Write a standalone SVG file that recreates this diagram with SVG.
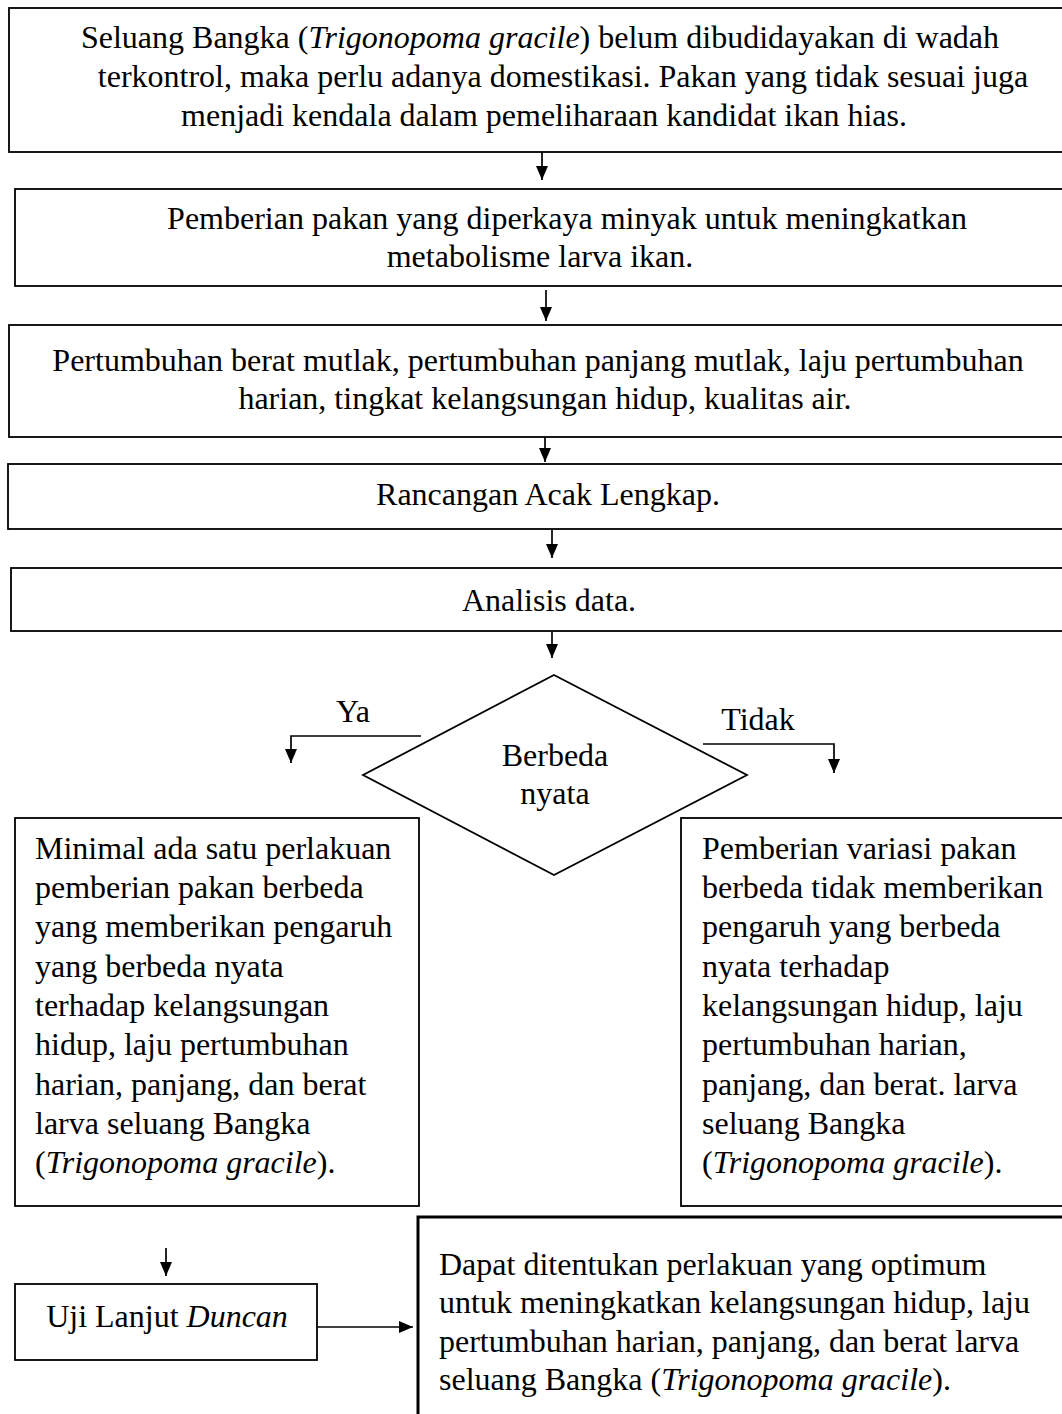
<svg xmlns="http://www.w3.org/2000/svg" width="1062" height="1414" viewBox="0 0 1062 1414">
<defs>
<style>
.box{fill:#fff;stroke:#000;stroke-width:1.8}
.thick{fill:#fff;stroke:#000;stroke-width:3}
.t{font-family:"Liberation Serif","Times New Roman",serif;font-size:32px;fill:#000}
.c{text-anchor:middle}
.conn{fill:none;stroke:#000;stroke-width:1.7}
</style>
<marker id="ah" viewBox="0 0 14 12" refX="14" refY="6" markerWidth="14" markerHeight="12" markerUnits="userSpaceOnUse" orient="auto">
<path d="M0,0 L14,6 L0,12 z" fill="#000"/>
</marker>
</defs>
<rect width="1062" height="1414" fill="#fff"/>

<g id="n1">
<rect class="box" x="9" y="8" width="1070" height="144"/>
<text class="t c" x="540" y="48">Seluang Bangka (<tspan font-style="italic">Trigonopoma gracile</tspan>) belum dibudidayakan di wadah</text>
<text class="t c" x="563" y="87">terkontrol, maka perlu adanya domestikasi. Pakan yang tidak sesuai juga</text>
<text class="t c" x="544" y="126">menjadi kendala dalam pemeliharaan kandidat ikan hias.</text>
</g>

<g id="n2">
<rect class="box" x="15" y="189" width="1070" height="97"/>
<text class="t c" x="567" y="229">Pemberian pakan yang diperkaya minyak untuk meningkatkan</text>
<text class="t c" x="540" y="267">metabolisme larva ikan.</text>
</g>

<g id="n3">
<rect class="box" x="9" y="325" width="1070" height="112"/>
<text class="t c" x="538" y="371">Pertumbuhan berat mutlak, pertumbuhan panjang mutlak, laju pertumbuhan</text>
<text class="t c" x="545" y="409">harian, tingkat kelangsungan hidup, kualitas air.</text>
</g>

<g id="n4">
<rect class="box" x="8" y="464" width="1070" height="65"/>
<text class="t c" x="548" y="505">Rancangan Acak Lengkap.</text>
</g>

<g id="n5">
<rect class="box" x="11" y="568" width="1070" height="63" stroke-width="2.2"/>
<text class="t c" x="549" y="611">Analisis data.</text>
</g>

<g id="n6">
<polygon class="box" points="554,675 747,775 554,875 363,775"/>
<text class="t c" x="555" y="766">Berbeda</text>
<text class="t c" x="555" y="804">nyata</text>
</g>

<g id="n7">
<rect class="box" x="15" y="818" width="404" height="388"/>
<text class="t" x="35" y="859">Minimal ada satu perlakuan</text>
<text class="t" x="35" y="898">pemberian pakan berbeda</text>
<text class="t" x="35" y="937">yang memberikan pengaruh</text>
<text class="t" x="35" y="977">yang berbeda nyata</text>
<text class="t" x="35" y="1016">terhadap kelangsungan</text>
<text class="t" x="35" y="1055">hidup, laju pertumbuhan</text>
<text class="t" x="35" y="1095">harian, panjang, dan berat</text>
<text class="t" x="35" y="1134">larva seluang Bangka</text>
<text class="t" x="35" y="1173">(<tspan font-style="italic">Trigonopoma gracile</tspan>).</text>
</g>

<g id="n8">
<rect class="box" x="681" y="818" width="400" height="388"/>
<text class="t" x="702" y="859">Pemberian variasi pakan</text>
<text class="t" x="702" y="898">berbeda tidak memberikan</text>
<text class="t" x="702" y="937">pengaruh yang berbeda</text>
<text class="t" x="702" y="977">nyata terhadap</text>
<text class="t" x="702" y="1016">kelangsungan hidup, laju</text>
<text class="t" x="702" y="1055">pertumbuhan harian,</text>
<text class="t" x="702" y="1095">panjang, dan berat. larva</text>
<text class="t" x="702" y="1134">seluang Bangka</text>
<text class="t" x="702" y="1173">(<tspan font-style="italic">Trigonopoma gracile</tspan>).</text>
</g>

<g id="n9">
<rect class="box" x="15" y="1284" width="302" height="76"/>
<text class="t c" x="167" y="1327">Uji Lanjut <tspan font-style="italic">Duncan</tspan></text>
</g>

<g id="n10">
<rect class="thick" x="418" y="1217" width="660" height="220"/>
<text class="t" x="439" y="1275">Dapat ditentukan perlakuan yang optimum</text>
<text class="t" x="439" y="1313">untuk meningkatkan kelangsungan hidup, laju</text>
<text class="t" x="439" y="1352">pertumbuhan harian, panjang, dan berat larva</text>
<text class="t" x="439" y="1390">seluang Bangka (<tspan font-style="italic">Trigonopoma gracile</tspan>).</text>
</g>

<g id="connectors">
<path class="conn" d="M542,152 V180" marker-end="url(#ah)"/>
<path class="conn" d="M546,290 V321" marker-end="url(#ah)"/>
<path class="conn" d="M545,437 V462" marker-end="url(#ah)"/>
<path class="conn" d="M552,530 V558" marker-end="url(#ah)"/>
<path class="conn" d="M552,632 V658" marker-end="url(#ah)"/>
<path class="conn" d="M421,736 H291 V763" marker-end="url(#ah)"/>
<path class="conn" d="M703,744 H834 V773" marker-end="url(#ah)"/>
<path class="conn" d="M166,1248 V1276" marker-end="url(#ah)"/>
<path class="conn" d="M317,1327 H413" marker-end="url(#ah)"/>
<text class="t c" x="353" y="722">Ya</text>
<text class="t c" x="758" y="730">Tidak</text>
</g>
</svg>
